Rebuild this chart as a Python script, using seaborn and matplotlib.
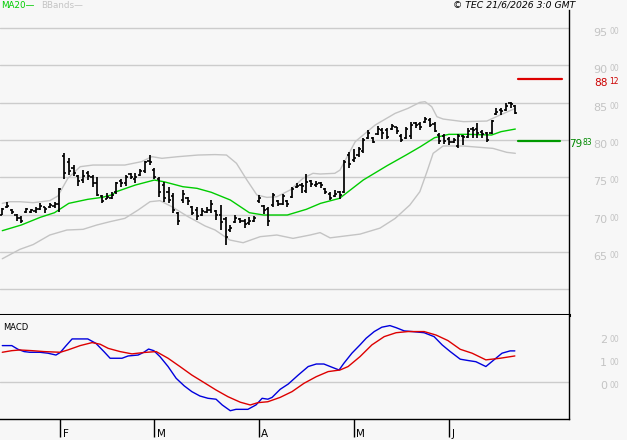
import numpy as np
import matplotlib
matplotlib.use("Agg")
import matplotlib.pyplot as plt
import seaborn as sns

# daily bars, mid January to mid June (trading day index 0..108)
high = [7094, 7165, 7072, 7009, 6982, 7094, 7076, 7107, 7152, 7107, 7161, 7174, 7353, 7821, 7755, 7665, 7531, 7598, 7589, 7531, 7500, 7264, 7286,
        7308, 7442, 7473, 7531, 7563, 7554, 7607, 7723, 7799, 7621, 7509, 7442, 7375, 7286, 7040, 7331, 7241, 7116, 7107, 7085, 7098, 7197,
        7063, 7130, 6974, 6862, 6996, 6951, 6938, 6965, 6982, 7264, 7130, 7107, 7295, 7197, 7277, 7197, 7375, 7420, 7429, 7540, 7464, 7455,
        7442, 7353, 7299, 7331, 7317, 7732, 7835, 7880, 7911, 8031, 8134, 8045, 8192, 8156, 8156, 8210, 8179, 8076, 8179, 8237, 8246, 8237, 8312,
        8290, 8246, 8089, 8076, 8045, 8031, 8076, 8067, 8165, 8179, 8223, 8134, 8112, 8268, 8424, 8424, 8491, 8513, 8469]
low = [6991, 7094, 7009, 6920, 6884, 7018, 7018, 7027, 7063, 7018, 7085, 7085, 7040, 7473, 7531, 7518, 7384, 7429, 7464, 7375, 7250, 7152, 7206,
       7206, 7277, 7366, 7384, 7473, 7420, 7518, 7554, 7665, 7473, 7232, 7174, 7161, 7018, 6862, 7161, 7130, 6996, 6929, 6982, 7018, 7018,
       6929, 6795, 6594, 6773, 6893, 6884, 6817, 6862, 6907, 7152, 7009, 6849, 7107, 7116, 7130, 7107, 7219, 7353, 7286, 7295, 7375, 7375,
       7353, 7273, 7197, 7241, 7210, 7286, 7621, 7710, 7777, 7822, 8014, 7955, 8067, 8014, 8014, 8134, 8076, 7969, 8014, 8014, 8156, 8134, 8223,
       8179, 8103, 7942, 7942, 7933, 7955, 7888, 7933, 8022, 8022, 8022, 8031, 7969, 8076, 8335, 8335, 8388, 8424, 8344]
open_ = [7000, 7100, 7060, 7000, 6960, 7030, 7040, 7050, 7080, 7100, 7100, 7120, 7150, 7780, 7700, 7620, 7520, 7460, 7560, 7500, 7420, 7250, 7210,
         7230, 7300, 7450, 7420, 7540, 7480, 7530, 7580, 7720, 7600, 7480, 7400, 7300, 7250, 7020, 7200, 7230, 7100, 7060, 7000, 7040, 7060,
         7050, 7000, 6940, 6800, 6900, 6940, 6910, 6890, 6920, 7180, 7110, 7080, 7130, 7190, 7150, 7180, 7240, 7370, 7400, 7320, 7450, 7400,
         7430, 7340, 7280, 7250, 7300, 7300, 7800, 7730, 7800, 7850, 8030, 8030, 8080, 8140, 8130, 8150, 8170, 8060, 8030, 8050, 8230, 8220, 8240,
         8270, 8220, 8070, 8050, 8020, 7970, 7920, 8050, 8040, 8150, 8150, 8110, 8100, 8100, 8350, 8400, 8400, 8500, 8450]
close = [7080, 7120, 7030, 6950, 6920, 7070, 7060, 7080, 7120, 7080, 7130, 7140, 7340, 7560, 7580, 7560, 7450, 7520, 7520, 7420, 7260, 7180, 7240,
         7260, 7420, 7430, 7500, 7510, 7510, 7580, 7700, 7700, 7500, 7300, 7220, 7200, 7060, 6920, 7280, 7180, 7020, 6980, 7050, 7060, 7150,
         6990, 6900, 6700, 6820, 6960, 6920, 6880, 6920, 6960, 7220, 7060, 6920, 7270, 7150, 7250, 7150, 7340, 7380, 7380, 7440, 7410, 7410,
         7400, 7300, 7220, 7280, 7260, 7700, 7680, 7760, 7880, 8000, 8100, 7980, 8150, 8100, 8040, 8190, 8120, 8000, 8150, 8200, 8200, 8180, 8280,
         8200, 8120, 7990, 7990, 7980, 8000, 8050, 8040, 8120, 8130, 8100, 8080, 8000, 8250, 8380, 8390, 8460, 8480, 8360]

ma20_day = [0, 4, 8, 11, 14, 18, 21, 23, 24, 28, 32, 34, 38, 41, 44, 48, 52, 55, 60, 64, 67, 71, 76, 81, 85, 88, 91, 94, 98, 103, 105, 108]
ma20 = [6786, 6862, 6965, 7027, 7152, 7206, 7232, 7264, 7308, 7397, 7464, 7442, 7375, 7353, 7300, 7197, 7027, 6996, 6996, 7072, 7152,
        7219, 7465, 7656, 7799, 7910, 8031, 8076, 8076, 8067, 8112, 8147]

bb_up_day = [0, 1.6, 3.7, 6.5, 10, 11.7, 13.8, 16.4, 19.1, 22.7, 25.8, 29.3, 31.5, 33.6, 37, 41.2, 44.8, 47.2, 49.3, 51.5, 53.6, 55.7,
             57.8, 60.6, 63.3, 65.4, 66.9, 70, 71.1, 74.3, 78.5, 82.7, 85.4, 87.9, 89, 90.4, 91.5, 92.8, 97.1, 102, 104.8, 108]
bb_up = [7152, 7174, 7174, 7161, 7188, 7250, 7487, 7643, 7665, 7665, 7665, 7710, 7777, 7755, 7777, 7799, 7805, 7799, 7688, 7464, 7264,
         7232, 7241, 7331, 7487, 7554, 7545, 7554, 7598, 7978, 8201, 8357, 8424, 8504, 8513, 8446, 8312, 8281, 8246, 8254, 8335, 8424]
bb_lo_day = [0, 3.7, 6.5, 10, 13.6, 17, 19.9, 22.7, 25.8, 28.6, 31.1, 33.2, 35.7, 39.1, 42.7, 44.8, 47.9, 50.7, 54.3, 57.8, 61.2, 64.8,
             66.9, 69, 75.3, 79.5, 82.7, 85.8, 87.9, 89.4, 90.7, 92.8, 97, 103.3, 106.2, 108]
bb_lo = [6410, 6536, 6600, 6728, 6795, 6804, 6862, 6907, 6951, 7063, 7174, 7188, 7107, 6974, 6849, 6795, 6661, 6625, 6706, 6728, 6683,
         6728, 6760, 6690, 6740, 6820, 6950, 7130, 7308, 7576, 7822, 7920, 7920, 7888, 7835, 7822]

macd_day = [0, 2.0, 3.3, 4.6, 5.8, 7.9, 9.6, 11.3, 12.2, 13.4, 14.7, 18.0, 19.7, 21.4, 22.7, 25.2, 26.5, 28.6, 29.8, 30.8, 31.9, 33.2,
            34.9, 36.6, 38.3, 39.9, 41.6, 43.3, 45, 46.3, 48, 49.2, 51.7, 53.4, 54.7, 55.9, 56.8, 58.5, 60.2, 62.3, 64.4, 66.1, 67.7,
            69.4, 70.9, 71.9, 73.6, 75.3, 76.6, 78.3, 79.9, 81.6, 82.9, 84.6, 86.3, 88.8, 90.9, 92.6, 94.3, 96.4, 98.1, 99.7, 101.8,
            103.5, 105.2, 106.9, 107.9]
macd = [158, 158, 142, 132, 129, 129, 125, 117, 128, 157, 187, 187, 168, 132, 103, 103, 113, 117, 129, 143, 136, 110,
        67, 16, -17, -42, -61, -71, -75, -100, -125, -119, -119, -100, -71, -75, -67, -32, -9, 30, 67, 78, 78,
        64, 52, 81, 125, 161, 190, 219, 238, 245, 236, 222, 219, 214, 197, 161, 132, 99, 93, 88, 67,
        96, 125, 135, 135]
signal_day = [0, 2.0, 3.7, 6.3, 8.8, 12.2, 13.8, 16.4, 18.9, 20.6, 22.3, 24.8, 27.3, 29.8, 32.4, 34.9, 37.4, 39.9, 42.5, 45, 47.5,
              50.1, 52.2, 53.8, 55.9, 58.5, 61, 63.5, 66.1, 68.6, 71.1, 72.8, 75.3, 77.8, 80.4, 82.9, 85.4, 88.8, 91.3, 93.8, 96.4,
              98.9, 101.8, 104.8, 107.9]
signal = [129, 136, 139, 136, 132, 129, 139, 158, 171, 164, 146, 132, 122, 128, 132, 103, 67, 30, -3, -35, -64,
          -88, -100, -90, -86, -67, -42, -6, 23, 45, 52, 67, 110, 161, 197, 214, 219, 219, 204, 180, 142,
          125, 96, 103, 113]

months = ["F", "M", "A", "M", "J"]
month_day = [12.2, 32, 54, 74, 94]
price_grid = [6000, 6500, 7000, 7500, 8000, 8500, 9000, 9500]
price_labels = [6500, 7000, 7500, 8000, 8500, 9000, 9500]
macd_labels = [0, 100, 200]
resistance = 8812
support = 7983

bg = "#f7f7f7"
grid_c = "#cccccc"
band_c = "#c4c4c4"
label_c = "#c4c4c4"
ma_c = "#00cc00"

sns.set_style("white", {"axes.facecolor": bg, "figure.facecolor": bg})
plt.rcParams["font.family"] = ["DejaVu Sans"]

W, H = 627, 440
fig = plt.figure(figsize=(W / 100, H / 100), dpi=100)


def box(l, t, r, b):
    return [l / W, 1 - b / H, (r - l) / W, (b - t) / H]


ax = fig.add_axes(box(0, 10, 569, 315))
ax2 = fig.add_axes(box(0, 315, 569, 419))
for a in (ax, ax2):
    a.set_facecolor(bg)
    a.set_xlim(-0.48, 119.3)
    a.spines["top"].set_visible(False)
    a.spines["left"].set_visible(False)
    a.spines["right"].set_color("black")
    a.spines["right"].set_linewidth(1)
    a.set_yticks([])
ax.spines["bottom"].set_color("black")
ax.spines["bottom"].set_linewidth(2.2)
ax2.spines["bottom"].set_color("black")
ax2.spines["bottom"].set_linewidth(1)
ax.set_ylim(5657, 9741)
ax2.set_ylim(-161, 291)

# price panel
for v in price_grid:
    ax.axhline(v, color=grid_c, lw=1, zorder=0)

sns.lineplot(x=bb_up_day, y=bb_up, ax=ax, color=band_c, lw=1)
sns.lineplot(x=bb_lo_day, y=bb_lo, ax=ax, color=band_c, lw=1)
sns.lineplot(x=ma20_day, y=ma20, ax=ax, color=ma_c, lw=1)

days = np.arange(len(close))
ax.vlines(days, low, high, color="black", lw=1.25)
ax.hlines(open_, days - 0.45, days, color="black", lw=1.2)
ax.hlines(close, days, days + 0.45, color="black", lw=1.2)

ax.axhline(resistance, xmin=518 / 569, xmax=562 / 569, color="#dd0000", lw=1.6)
ax.axhline(support, xmin=518 / 569, xmax=560 / 569, color="#009900", lw=1.6)
ax.set_xticks([])
ax.set_xlabel("")
ax.set_ylabel("")


def side_label(a, v, big, small, color, r_big, r_small, b_big, b_small, size=8):
    a.annotate(big, xy=(1, v), xycoords=("axes fraction", "data"), xytext=(r_big * 0.72, -b_big * 0.72),
               textcoords="offset points", ha="right", va="baseline", fontsize=size, color=color, annotation_clip=False)
    a.annotate(small, xy=(1, v), xycoords=("axes fraction", "data"), xytext=(r_small * 0.72, -b_small * 0.72),
               textcoords="offset points", ha="right", va="baseline", fontsize=5.5, color=color, annotation_clip=False)


for v in price_labels:
    s = str(v)
    side_label(ax, v, s[:2], s[2:], label_c, 38, 50, 8, 6)
side_label(ax, resistance, str(resistance)[:2], str(resistance)[2:], "#cc0000", 38.5, 49.5, 6.7, 4.6, size=7.6)
side_label(ax, support, str(support)[:2], str(support)[2:], "#008800", 13, 23.5, 5.4, 3.4, size=7.6)

# MACD panel
ax2.axhline(0, color=grid_c, lw=1, zorder=0)
sns.lineplot(x=macd_day, y=macd, ax=ax2, color="#0000dd", lw=1)
sns.lineplot(x=signal_day, y=signal, ax=ax2, color="#dd0000", lw=1)
for v in macd_labels:
    s = f"{v:03d}"
    side_label(ax2, v, s[:1], s[1:], label_c, 38, 50, 7.5, 6)

ax2.set_xticks(month_day)
ax2.set_xticklabels([])
ax2.tick_params(axis="x", direction="out", length=13, width=1, color="black", bottom=True)
ax2.set_xlabel("")
ax2.set_ylabel("")
for d, m in zip(month_day, months):
    ax2.annotate(m, xy=(d, 0), xycoords=("data", "axes fraction"), xytext=(1.8, -13.2),
                 textcoords="offset points", ha="left", va="baseline", fontsize=7.5, color="black",
                 annotation_clip=False)

# header texts
fig.text(1 / W, 1 - 7.5 / H, "MA20\u2014", color=ma_c, fontsize=6.3, va="baseline", ha="left")
fig.text(41 / W, 1 - 7.5 / H, "BBands\u2014", color=band_c, fontsize=6.3, va="baseline", ha="left")
fig.text(575 / W, 1 - 7.5 / H, "\u00a9 TEC 21/6/2026 3:0 GMT", color="black", fontsize=6.7,
         style="italic", va="baseline", ha="right")
fig.text(3 / W, 1 - 330.5 / H, "MACD", color="black", fontsize=6, va="baseline", ha="left")

plt.savefig("out.png", dpi=100, facecolor=bg)
